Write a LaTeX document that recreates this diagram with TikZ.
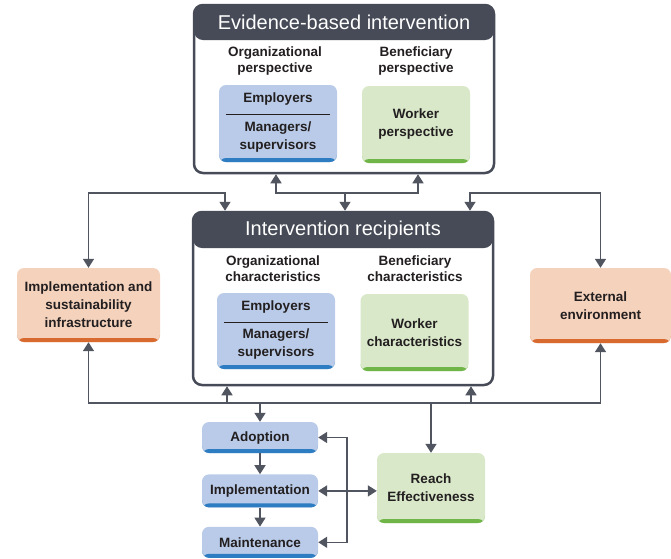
\documentclass[tikz,border=0pt]{standalone}
\usepackage{fontspec}
\setmainfont{Liberation Sans}
\usetikzlibrary{arrows.meta, positioning}
\definecolor{headdark}{RGB}{70,75,87}
\definecolor{arrowgray}{RGB}{80,85,96}
\definecolor{textdark}{RGB}{35,31,32}
\definecolor{bluefill}{RGB}{185,203,232}
\definecolor{bluestripe}{RGB}{46,124,194}
\definecolor{greenfill}{RGB}{217,232,201}
\definecolor{greenstripe}{RGB}{112,181,72}
\definecolor{orangefill}{RGB}{244,210,188}
\definecolor{orangestripe}{RGB}{216,106,48}
\tikzset{
  container/.style={
    draw=headdark,
    line width=2.5pt,
    rounded corners=9pt,
    fill=white,
    path picture={\fill[headdark] (path picture bounding box.north west)
      rectangle ([yshift=-#1]path picture bounding box.north east);}
  },
  headtext/.style={
    text=white,
    font=\fontsize{20}{24}\selectfont,
    inner sep=0pt
  },
  labeltext/.style={
    text=textdark,
    align=center,
    font=\bfseries\fontsize{13.5}{16}\selectfont,
    inner sep=0pt
  },
  stripebox/.style={
    rounded corners=7pt,
    align=center,
    inner sep=2pt,
    text=textdark,
    font=\bfseries\fontsize{13.5}{18}\selectfont,
    path picture={\fill[#1] ([yshift=4pt]path picture bounding box.south west)
      rectangle (path picture bounding box.south east);}
  },
  bluebox/.style={stripebox=bluestripe, fill=bluefill},
  greenbox/.style={stripebox=greenstripe, fill=greenfill},
  orangebox/.style={stripebox=orangestripe, fill=orangefill},
  boxtext/.style={labeltext, font=\bfseries\fontsize{13.5}{18}\selectfont},
  divider/.style={draw=textdark, line width=1pt},
  arrow/.style={-{Triangle[length=9pt,width=11pt]}, line width=1.6pt, draw=arrowgray},
  biarrow/.style={{Triangle[length=9pt,width=11pt]}-{Triangle[length=9pt,width=11pt]}, line width=1.6pt, draw=arrowgray}
}
\begin{document}
\begin{tikzpicture}[x=1pt, y=-1pt]
\useasboundingbox (0,0) rectangle (671,558);

% evidence-based intervention
\node[container=35pt, minimum width=300pt, minimum height=168pt] (ebi) at (344,89) {};
\node[headtext] (ebihead) at (344,22) {Evidence-based intervention};
\node[labeltext] (orgp) at (275,61) {Organizational\\perspective};
\node[labeltext] (benp) at (416,61) {Beneficiary\\perspective};
\node[bluebox, minimum width=118pt, minimum height=77pt] (orgbox) at (278,123.5) {};
\node[boxtext] (emp) at (278,99) {Employers};
\draw[divider] ([xshift=7pt,yshift=-30pt]orgbox.north west) -- ([xshift=-7pt,yshift=-30pt]orgbox.north east);
\node[boxtext] (mgr) at (278,137) {Managers/\\supervisors};
\node[greenbox, minimum width=108pt, minimum height=77pt] (wkbox) at (416,124.5) {Worker\\perspective};

% intervention recipients
\node[container=36pt, minimum width=300pt, minimum height=173pt] (rec) at (343,298.5) {};
\node[headtext] (rechead) at (343,230) {Intervention recipients};
\node[labeltext] (orgc) at (273,268.5) {Organizational\\characteristics};
\node[labeltext] (benc) at (415,268.5) {Beneficiary\\characteristics};
\node[bluebox, minimum width=118pt, minimum height=76pt] (orgbox2) at (276,331) {};
\node[boxtext] (emp2) at (276,307) {Employers};
\draw[divider] ([xshift=7pt,yshift=-30pt]orgbox2.north west) -- ([xshift=-7pt,yshift=-30pt]orgbox2.north east);
\node[boxtext] (mgr2) at (276,344) {Managers/\\supervisors};
\node[greenbox, minimum width=108pt, minimum height=77pt] (wkbox2) at (414.5,332.5) {Worker\\characteristics};

% side boxes
\node[orangebox, minimum width=143pt, minimum height=74pt] (infra) at (88.5,305) {Implementation and\\sustainability\\infrastructure};
\node[orangebox, minimum width=141pt, minimum height=75pt] (env) at (600.5,305.5) {External\\environment};

% RE-AIM boxes
\node[bluebox, minimum width=116pt, minimum height=31pt] (adopt) at (260,437.5) {Adoption};
\node[bluebox, minimum width=116pt, minimum height=33pt, below=21pt of adopt] (impl) {Implementation};
\node[bluebox, minimum width=116pt, minimum height=31pt, below=19pt of impl] (maint) {Maintenance};
\node[greenbox, minimum width=108pt, minimum height=70pt] (reach) at (431,488) {Reach\\Effectiveness};

% junctions
\coordinate (jt) at (345,193);
\coordinate (jtl) at (276,193);
\coordinate (jtr) at (418,193);
\coordinate (jl) at (225,193);
\coordinate (jr) at (470,193);
\coordinate (jb) at (343,403);
\coordinate (jbl) at (227,403);
\coordinate (jbr) at (471,403);
\coordinate (jv) at (347,490);

% connectors
\draw[arrow] (jt) -- (jtl) -- (jtl |- ebi.south);
\draw[arrow] (jt) -- (jtr) -- (jtr |- ebi.south);
\draw[arrow] (jt) -- (jt |- rec.north);
\draw[biarrow] (infra.north) |- (jl) -- (jl |- rec.north);
\draw[biarrow] (env.north) |- (jr) -- (jr |- rec.north);
\draw[biarrow] (infra.south) |- (jb) -| (env.south);
\draw[arrow] (jbl) -- (jbl |- rec.south);
\draw[arrow] (jbr) -- (jbr |- rec.south);
\draw[arrow] (adopt.north |- jb) -- (adopt.north);
\draw[arrow] (reach.north |- jb) -- (reach.north);
\draw[arrow] (adopt) -- (impl);
\draw[arrow] (impl) -- (maint);
\draw[biarrow] (adopt.east) -| (jv) |- (maint.east);
\draw[biarrow] (impl.east) -- (impl.east -| reach.west);
\end{tikzpicture}
\end{document}
